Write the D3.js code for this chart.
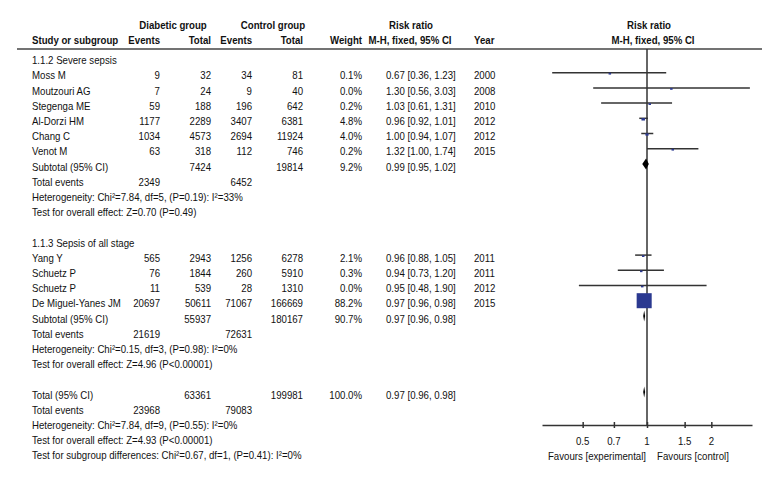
<!DOCTYPE html>
<html><head><meta charset="utf-8">
<script src="https://cdn.jsdelivr.net/npm/d3@7"></script>
<style>
body{margin:0;background:#fff;}
svg text{font-family:"Liberation Sans",Arial,sans-serif;font-size:11.8px;fill:#111;}
</style></head><body>
<svg id="c" width="780" height="480"></svg>
<script>
// ---- data ----
const studyNames = ["Moss M","Moutzouri AG","Stegenga ME","Al-Dorzi HM","Chang C","Venot M",
                    "Yang Y","Schuetz P","Schuetz P","De Miguel-Yanes JM"];
const studyGroup = [1,1,1,1,1,1,2,2,2,2];
const diabEvents = [9,7,59,1177,1034,63,565,76,11,20697];
const diabTotal  = [32,24,188,2289,4573,318,2943,1844,539,50611];
const ctrlEvents = [34,9,196,3407,2694,112,1256,260,28,71067];
const ctrlTotal  = [81,40,642,6381,11924,746,6278,5910,1310,166669];
const weights    = [0.1,0.0,0.2,4.8,4.0,0.2,2.1,0.3,0.0,88.2];
const rr         = [0.67,1.30,1.03,0.96,1.00,1.32,0.96,0.94,0.95,0.97];
const rrLow      = [0.36,0.56,0.61,0.92,0.94,1.00,0.88,0.73,0.48,0.96];
const rrHigh     = [1.23,3.03,1.31,1.01,1.07,1.74,1.05,1.20,1.90,0.98];
const years      = [2000,2008,2010,2012,2012,2015,2011,2011,2012,2015];

const groupNames = ["1.1.2 Severe sepsis","1.1.3 Sepsis of all stage"];
const subTotD    = [7424,55937];
const subTotC    = [19814,180167];
const subWeight  = ["9.2%","90.7%"];
const subRR      = [0.99,0.97];
const subLow     = [0.95,0.96];
const subHigh    = [1.02,0.98];
const subEvD     = [2349,21619];
const subEvC     = [6452,72631];
const subHet     = ["Heterogeneity: Chi\u00B2=7.84, df=5, (P=0.19): I\u00B2=33%",
                    "Heterogeneity: Chi\u00B2=0.15, df=3, (P=0.98): I\u00B2=0%"];
const subTest    = ["Test for overall effect: Z=0.70 (P=0.49)",
                    "Test for overall effect: Z=4.96 (P<0.00001)"];

const totD = 63361, totC = 199981, totWeight = "100.0%";
const totRR = 0.97, totLow = 0.96, totHigh = 0.98;
const totEvD = 23968, totEvC = 79083;
const totHet = "Heterogeneity: Chi\u00B2=7.84, df=9, (P=0.55): I\u00B2=0%";
const totTest = "Test for overall effect: Z=4.93 (P<0.00001)";
const subgroupTest = "Test for subgroup differences: Chi\u00B2=0.67, df=1, (P=0.41): I\u00B2=0%";

const axisTicks = [0.5,0.7,1,1.5,2];
const axisTickLabels = ["0.5","0.7","1","1.5","2"];

// ---- layout ----
const svg = d3.select("#c");
const rowY = d3.scaleLinear().domain([0,26]).range([60, 60+26*15.2]);
const x = d3.scaleLog().domain([1/3.1, 3.1]).range([542, 752]);
const col = {name:32, evD:160, totD:211, evC:252, totC:303, w:362, rr:386, yr:474};
const fmt2 = v => v.toFixed(2);
const ciText = (m,l,h) => `${fmt2(m)} [${fmt2(l)}, ${fmt2(h)}]`;
const fmtW = w => w.toFixed(1)+"%";

// condensed look: measure a reference string and compress horizontally
const probe = svg.append("text").text(subHet[0]);
const sx = Math.min(1, 211 / probe.node().getComputedTextLength());
probe.remove();

function txt(xp, yc, s, anchor="start", bold=false){
  svg.append("text").attr("transform",`translate(${xp},${yc+4.2}) scale(${sx},1)`)
    .attr("text-anchor",anchor)
    .style("font-weight",bold?"bold":"normal").text(s);
}

// headers
txt(173,25,"Diabetic group","middle",true);
txt(273,25,"Control group","middle",true);
txt(411,25,"Risk ratio","middle",true);
txt(649,25,"Risk ratio","middle",true);
txt(col.name,40,"Study or subgroup","start",true);
txt(col.evD,40,"Events","end",true);
txt(col.totD,40,"Total","end",true);
txt(col.evC,40,"Events","end",true);
txt(col.totC,40,"Total","end",true);
txt(col.w,40,"Weight","end",true);
txt(410,40,"M-H, fixed, 95% CI","middle",true);
txt(col.yr,40,"Year","start",true);
txt(653,40,"M-H, fixed, 95% CI","middle",true);

svg.append("line").attr("x1",17).attr("x2",762).attr("y1",49).attr("y2",49)
  .attr("stroke","#444").attr("stroke-width",1.5);

// vertical line of no effect
svg.append("line").attr("x1",x(1)).attr("x2",x(1)).attr("y1",49).attr("y2",425)
  .attr("stroke","#333").attr("stroke-width",1.5);

function diamond(m,l,h,y){
  const yc = y-2.5, hh = 5.5;
  svg.append("path").attr("d",`M${x(l)},${yc}L${x(m)},${yc-hh}L${x(h)},${yc}L${x(m)},${yc+hh}Z`)
    .attr("fill","#000");
}

// rows
const studyRows = [];
const groupStart = [0,12];
groupNames.forEach((g,gi)=>{
  const r0 = groupStart[gi];
  txt(col.name,rowY(r0),g);
  const idx = studyGroup.map((v,i)=>v===gi+1?i:-1).filter(i=>i>=0);
  idx.forEach((i,k)=>studyRows.push({i, row:r0+1+k}));
  const rs = r0+1+idx.length;
  txt(col.name,rowY(rs),"Subtotal (95% CI)");
  txt(col.totD,rowY(rs),String(subTotD[gi]),"end");
  txt(col.totC,rowY(rs),String(subTotC[gi]),"end");
  txt(col.w,rowY(rs),subWeight[gi],"end");
  txt(col.rr,rowY(rs),ciText(subRR[gi],subLow[gi],subHigh[gi]));
  txt(col.name,rowY(rs+1),"Total events");
  txt(col.evD,rowY(rs+1),String(subEvD[gi]),"end");
  txt(col.evC,rowY(rs+1),String(subEvC[gi]),"end");
  txt(col.name,rowY(rs+2),subHet[gi]);
  txt(col.name,rowY(rs+3),subTest[gi]);
  diamond(subRR[gi],subLow[gi],subHigh[gi],rowY(rs));
});

studyRows.forEach(({i,row})=>{
  const y = rowY(row);
  txt(col.name,y,studyNames[i]);
  txt(col.evD,y,String(diabEvents[i]),"end");
  txt(col.totD,y,String(diabTotal[i]),"end");
  txt(col.evC,y,String(ctrlEvents[i]),"end");
  txt(col.totC,y,String(ctrlTotal[i]),"end");
  txt(col.w,y,fmtW(weights[i]),"end");
  txt(col.rr,y,ciText(rr[i],rrLow[i],rrHigh[i]));
  txt(col.yr,y,String(years[i]));
  const ym = y-2.5;
  svg.append("line").attr("x1",x(rrLow[i])).attr("x2",x(rrHigh[i]))
    .attr("y1",ym).attr("y2",ym).attr("stroke","#333").attr("stroke-width",1.5);
  const s = Math.max(2.5, 1.6*Math.sqrt(weights[i]));
  const h = s<4 ? s*0.7 : s;
  svg.append("rect").attr("x",x(rr[i])-s/2).attr("y",ym-h/2+(s<4?1:0))
    .attr("width",s).attr("height",h).attr("fill","#2b3990");
});

// overall
const rt = 22;
txt(col.name,rowY(rt),"Total (95% CI)");
txt(col.totD,rowY(rt),String(totD),"end");
txt(col.totC,rowY(rt),String(totC),"end");
txt(col.w,rowY(rt),totWeight,"end");
txt(col.rr,rowY(rt),ciText(totRR,totLow,totHigh));
diamond(totRR,totLow,totHigh,rowY(rt));
txt(col.name,rowY(rt+1),"Total events");
txt(col.evD,rowY(rt+1),String(totEvD),"end");
txt(col.evC,rowY(rt+1),String(totEvC),"end");
txt(col.name,rowY(rt+2),totHet);
txt(col.name,rowY(rt+3),totTest);
txt(col.name,rowY(rt+4),subgroupTest);

// axis
const ax = svg.append("g").attr("transform","translate(0,425)")
  .call(d3.axisBottom(x).tickValues(axisTicks).tickFormat(()=>"").tickSizeOuter(0).tickSizeInner(3));
ax.select(".domain").attr("stroke","#333").attr("stroke-width",1.5);
ax.selectAll(".tick line").attr("y1",-3).attr("y2",3).attr("stroke","#333").attr("stroke-width",1.5);
axisTicks.forEach((t,i)=>txt(x(t),441,axisTickLabels[i],"middle"));
txt(597,456,"Favours [experimental]","middle");
txt(693,456,"Favours [control]","middle");
</script></body></html>
